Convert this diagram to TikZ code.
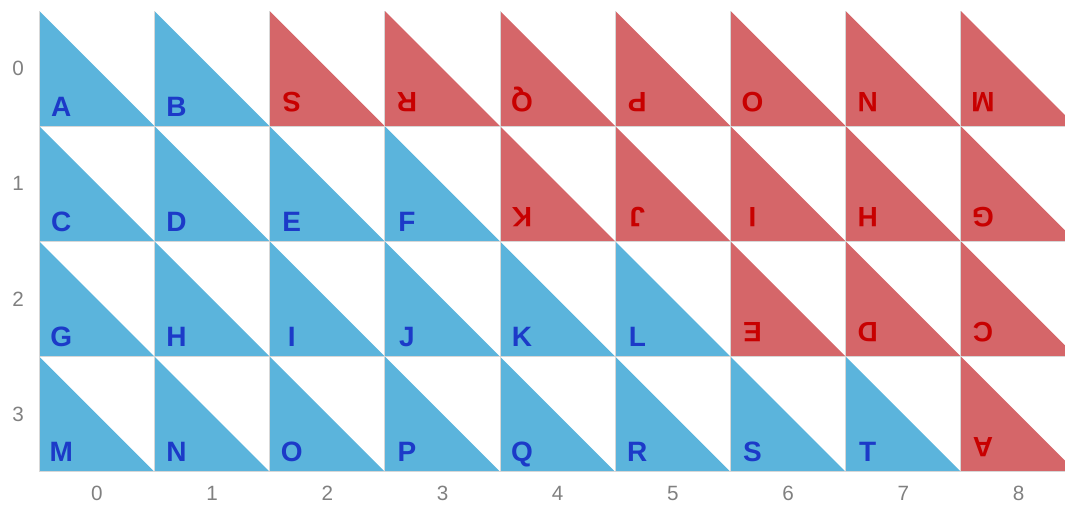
\documentclass[tikz,border=0pt]{standalone}
\usepackage{fontspec}
\setmainfont{Liberation Sans}
\definecolor{triblue}{RGB}{91,180,220}
\definecolor{trired}{RGB}{213,102,105}
\definecolor{letblue}{RGB}{28,58,200}
\definecolor{letred}{RGB}{200,0,0}
\definecolor{axisgray}{RGB}{128,128,128}
\definecolor{gridgray}{RGB}{215,215,215}
\begin{document}
\begin{tikzpicture}[x=0.75pt,y=-0.75pt,
  fillB/.style={fill=triblue},
  fillR/.style={fill=trired},
  labB/.style={text=letblue,font=\bfseries\fontsize{21}{21}\selectfont,inner sep=0pt,anchor=base},
  labR/.style={text=letred,font=\bfseries\fontsize{21}{21}\selectfont,inner sep=0pt,anchor=base,rotate=180},
  axislab/.style={text=axisgray,font=\fontsize{15.5}{15.5}\selectfont,inner sep=0pt},
  gridline/.style={draw=gridgray,line width=0.75pt}]
\useasboundingbox (0,0) rectangle (1065,504);
\clip (0,0) rectangle (1065,504);
\def\cw{115.2}
\foreach \c/\r/\k/\t/\dy in {
  0/0/B/A/10,1/0/B/B/10,2/0/R/S/34,3/0/R/R/34,4/0/R/Q/34,5/0/R/P/34,6/0/R/O/34,7/0/R/N/34,8/0/R/M/34,
  0/1/B/C/10,1/1/B/D/10,2/1/B/E/10,3/1/B/F/10,4/1/R/K/34,5/1/R/J/34,6/1/R/I/34,7/1/R/H/34,8/1/R/G/34,
  0/2/B/G/10,1/2/B/H/10,2/2/B/I/10,3/2/B/J/10,4/2/B/K/10,5/2/B/L/10,6/2/R/E/34,7/2/R/D/34,8/2/R/C/34,
  0/3/B/M/10,1/3/B/N/10,2/3/B/O/10,3/3/B/P/10,4/3/B/Q/10,5/3/B/R/10,6/3/B/S/10,7/3/B/T/10,8/3/R/A/34}{
  \pgfmathsetmacro\xx{39.3+\cw*\c}
  \pgfmathsetmacro\yy{11+\cw*\r}
  \fill[fill\k] (\xx,\yy) -- (\xx,\yy+\cw) -- (\xx+\cw,\yy+\cw) -- cycle;
  \node[lab\k] (L\c\r) at (\xx+22,\yy+\cw-\dy) {\t};
}
\foreach \i in {0,...,9}{
  \draw[gridline] (39.3+\cw*\i,11) -- (39.3+\cw*\i,11+4*\cw);
}
\foreach \j in {1,...,4}{
  \draw[gridline] (39.3,11+\cw*\j) -- (39.3+9*\cw,11+\cw*\j);
}
\foreach \r in {0,...,3}{
  \node[axislab] (row\r) at (18,11+\cw*\r+57.6) {\r};
}
\foreach \c in {0,...,8}{
  \node[axislab] (col\c) at (39.3+\cw*\c+57.6,493) {\c};
}
\end{tikzpicture}
\end{document}
